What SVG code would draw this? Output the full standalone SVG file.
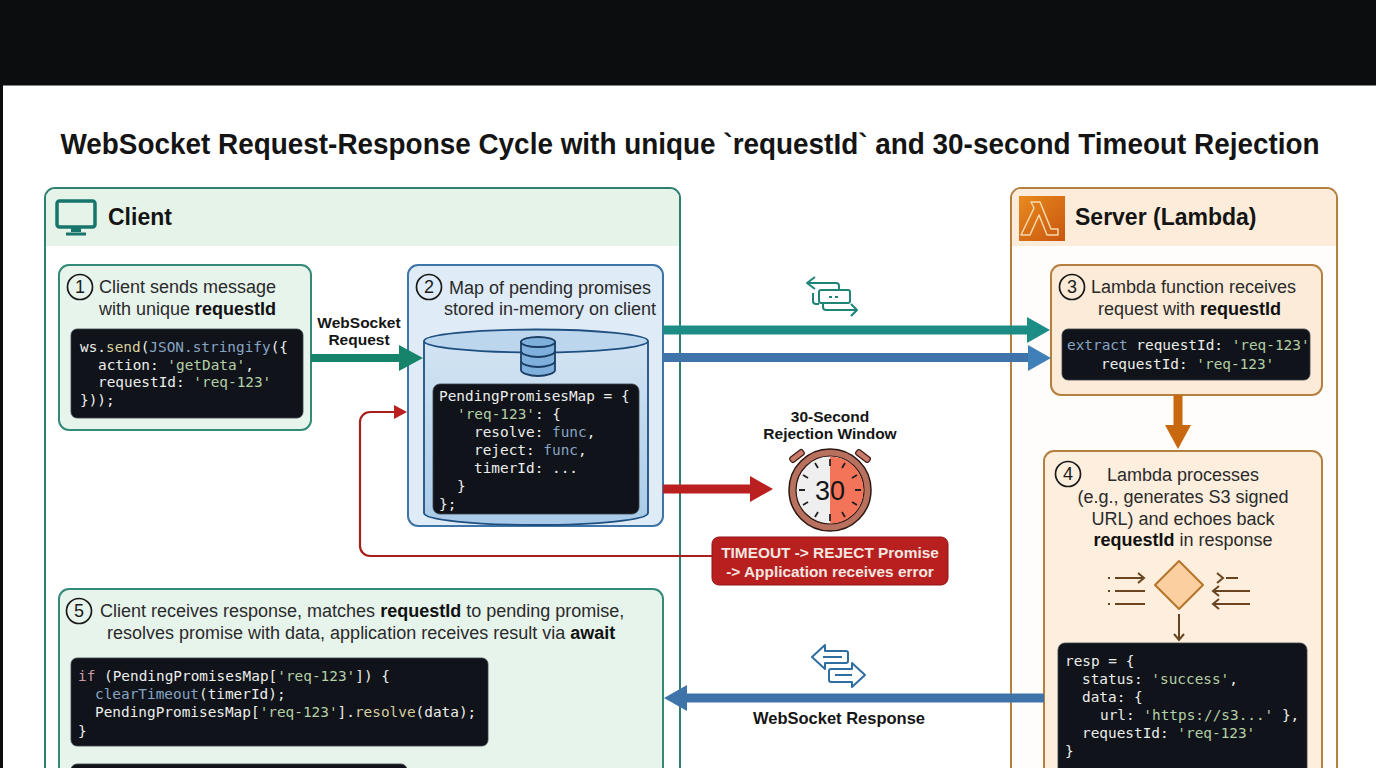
<svg xmlns="http://www.w3.org/2000/svg" width="1376" height="768" viewBox="0 0 1376 768">
<style>
text{font-family:"Liberation Sans",Arial,sans-serif;fill:#1a1a1a}
.h{font-size:23px;font-weight:bold;fill:#141414}
.t{font-size:18px;fill:#2a2a2a}
.c{text-anchor:middle}
.b{font-weight:bold;fill:#111}
.l{font-size:15.500px;font-weight:bold;fill:#151515;text-anchor:middle}
.n{font-size:18px;fill:#1a1a1a;text-anchor:middle}
.num{fill:none;stroke:#1a1a1a;stroke-width:1.7}
.code{fill:#101319;stroke:#3a4048;stroke-width:.8}
.m{font-family:"DejaVu Sans Mono","Liberation Mono",monospace;font-size:14.4px;fill:#eceeec;white-space:pre}
.g{fill:#b4d0a6}.k{fill:#87a5c4}.p{fill:#c99aa8}.y{fill:#d8cfa0}
.r{font-size:15.400px;font-weight:bold;fill:#f6e6e0;text-anchor:middle}
</style>
<defs>
<linearGradient id="lam" x1="0" y1="0" x2="1" y2="1"><stop offset="0" stop-color="#e98a1e"/><stop offset="1" stop-color="#c8560f"/></linearGradient>
<linearGradient id="cyl" x1="0" y1="0" x2="0" y2="1"><stop offset="0" stop-color="#d3e4f3"/><stop offset="1" stop-color="#a9cbe8"/></linearGradient>
</defs>
<rect width="1376" height="768" fill="#fff"/>
<rect width="1376" height="85.500" fill="#0c0d0f"/>
<rect y="85" width="3" height="683" fill="#0c0d0f"/>
<text id="title" transform="translate(690 154) scale(.946 1)" text-anchor="middle" style="font-size:29.5px;font-weight:bold;fill:#141414">WebSocket Request-Response Cycle with unique `requestId` and 30-second Timeout Rejection</text>

<g id="client-panel">
<path d="M45 800V198a10 10 0 0 1 10-10H670a10 10 0 0 1 10 10V800Z" fill="#fff" stroke="#2f7f70" stroke-width="2"/>
<path d="M46 246V198a9 9 0 0 1 9-9H670a9 9 0 0 1 9 9V246Z" fill="#e5f3e8"/>
<rect x="57" y="201" width="38" height="26" rx="2.500" fill="none" stroke="#17756b" stroke-width="3.500"/>
<path d="M71 228h10v4h-10zM66 232.500h20v3h-20z" fill="#17756b"/>
<text class="h" x="108" y="225">Client</text>
</g>

<g id="server-panel">
<path d="M1011 800V198a10 10 0 0 1 10-10H1327a10 10 0 0 1 10 10V800Z" fill="#fffdfb" stroke="#b5803f" stroke-width="2"/>
<path d="M1012 246V198a9 9 0 0 1 9-9H1327a9 9 0 0 1 9 9V246Z" fill="#fcecd9"/>
<rect x="1019" y="196" width="46" height="45" fill="url(#lam)"/>
<path d="M1031 202h9l11 27h7v6h-11l-8-20-9 20h-9l13-27-3-6h0z" fill="none" stroke="#f7d9ad" stroke-width="1.500" stroke-linejoin="round"/>
<text class="h" x="1075" y="225">Server (Lambda)</text>
</g>

<g id="step1">
<rect x="59" y="265" width="252" height="165" rx="10" fill="#e7f4ec" stroke="#348a78" stroke-width="2"/>
<circle class="num" cx="80" cy="287" r="12.500"/><text class="n" x="80" y="293">1</text>
<text class="t" x="99" y="293">Client sends message</text>
<text class="t" x="99" y="315">with unique <tspan class="b">requestId</tspan></text>
<rect class="code" x="71" y="329" width="232" height="89" rx="6"/>
<text class="m" x="80" y="352">ws.<tspan class="y">send</tspan>(<tspan class="k">JSON.stringify</tspan>({</text>
<text class="m" x="98" y="370">action: <tspan class="g">'getData'</tspan>,</text>
<text class="m" x="98" y="387">requestId: <tspan class="g">'req-123'</tspan></text>
<text class="m" x="80" y="405">}));</text>
</g>

<g id="step2">
<rect x="408" y="265" width="255" height="261" rx="10" fill="#dfecf7" stroke="#3f74a8" stroke-width="2"/>
<circle class="num" cx="429" cy="287" r="12.500"/><text class="n" x="429" y="293">2</text>
<text class="t" x="449" y="294">Map of pending promises</text>
<text class="t" x="444" y="315">stored in-memory on client</text>
<path d="M424 341V513C424 520 475 525 536 525S648 520 648 513V341" fill="url(#cyl)" stroke="#1f4f80" stroke-width="1.800"/>
<ellipse cx="536" cy="341" rx="112" ry="11.500" fill="#bcd6ee" stroke="#1f4f80" stroke-width="1.800"/>
<g fill="#7fb0dc" stroke="#1a3e63" stroke-width="1.800">
<path d="M521 342v28c0 3 8 6 17 6s17-3 17-6v-28z"/>
<ellipse cx="538" cy="342" rx="17" ry="5"/>
<path d="M521 351c0 3 8 6 17 6s17-3 17-6M521 361c0 3 8 6 17 6s17-3 17-6" fill="none"/>
</g>
<rect class="code" x="433" y="384" width="206" height="130" rx="7"/>
<text class="m" x="439" y="401">PendingPromisesMap = {</text>
<text class="m" x="457" y="419"><tspan class="g">'req-123'</tspan>: {</text>
<text class="m" x="474" y="437">resolve: <tspan class="k">func</tspan>,</text>
<text class="m" x="474" y="455">reject: <tspan class="k">func</tspan>,</text>
<text class="m" x="474" y="473">timerId: ...</text>
<text class="m" x="457" y="491">}</text>
<text class="m" x="439" y="509">};</text>
</g>

<g id="step3">
<rect x="1051" y="265" width="271" height="130" rx="10" fill="#fcebd8" stroke="#b5803f" stroke-width="2"/>
<circle class="num" cx="1072" cy="287" r="12.500"/><text class="n" x="1072" y="293">3</text>
<text class="t" x="1091" y="293">Lambda function receives</text>
<text class="t" x="1098" y="315">request with <tspan class="b">requestId</tspan></text>
<rect class="code" x="1062" y="329" width="248" height="51" rx="6"/>
<text class="m" x="1067" y="350"><tspan class="k">extract</tspan> requestId: <tspan class="g">'req-123'</tspan></text>
<text class="m" x="1101" y="369">requestId: <tspan class="g">'req-123'</tspan></text>
</g>

<g id="step4">
<path d="M1044 800V461a10 10 0 0 1 10-10H1312a10 10 0 0 1 10 10V800Z" fill="#fdeedd" stroke="#b5803f" stroke-width="2"/>
<circle class="num" cx="1068" cy="474" r="12.500"/><text class="n" x="1068" y="480">4</text>
<text class="t c" x="1183" y="481">Lambda processes</text>
<text class="t c" x="1183" y="503">(e.g., generates S3 signed</text>
<text class="t c" x="1183" y="525">URL) and echoes back</text>
<text class="t c" x="1183" y="546"><tspan class="b">requestId</tspan> in response</text>
<path d="M1179 561l24 24-24 24-24-24z" fill="#fbcf9f" stroke="#b5762c" stroke-width="2" stroke-linejoin="round"/>
<g fill="none" stroke="#6a4420" stroke-width="2">
<path d="M1115 578h29M1138 573l6 5-6 5M1115 591h30M1115 604h30"/>
<path d="M1108 578h2M1108 591h2M1108 604h2"/>
<path d="M1226 578h12M1217 573l6 5-6 5M1213 591h37M1219 586l-6 5 6 5M1213 604h37M1219 599l-6 5 6 5"/>
<path d="M1179 614v26M1174 634l5 6 5-6"/>
</g>
<rect class="code" x="1058" y="643" width="249" height="135" rx="7"/>
<text class="m" x="1065" y="666">resp = {</text>
<text class="m" x="1082" y="684">status: <tspan class="g">'success'</tspan>,</text>
<text class="m" x="1082" y="702">data: {</text>
<text class="m" x="1100" y="720">url: <tspan class="g">'https://s3...'</tspan> },</text>
<text class="m" x="1082" y="738">requestId: <tspan class="g">'req-123'</tspan></text>
<text class="m" x="1065" y="756">}</text>
</g>

<g id="step5">
<path d="M59 800V599a10 10 0 0 1 10-10H653a10 10 0 0 1 10 10V800Z" fill="#e7f4ec" stroke="#348a78" stroke-width="2"/>
<circle class="num" cx="79" cy="611" r="12.500"/><text class="n" x="79" y="617">5</text>
<text class="t" x="100" y="617">Client receives response, matches <tspan class="b">requestId</tspan> to pending promise,</text>
<text class="t" x="107" y="639">resolves promise with data, application receives result via <tspan class="b">await</tspan></text>
<rect class="code" x="71" y="658" width="417" height="88" rx="6"/>
<text class="m" x="78" y="681"><tspan class="p">if</tspan> (PendingPromisesMap[<tspan class="g">'req-123'</tspan>]) {</text>
<text class="m" x="95" y="699"><tspan class="k">clearTimeout</tspan>(timerId);</text>
<text class="m" x="95" y="717">PendingPromisesMap[<tspan class="g">'req-123'</tspan>].<tspan class="y">resolve</tspan>(data);</text>
<text class="m" x="78" y="736">}</text>
<rect class="code" x="71" y="764" width="336" height="20" rx="6"/>
</g>

<g id="timer">
<text class="l" x="830" y="422">30-Second</text>
<text class="l" x="830" y="439">Rejection Window</text>
<g fill="#c97b6a" stroke="#3a1a14" stroke-width="1.200">
<rect x="-8" y="-3" width="16" height="6" rx="2" transform="translate(797 456) rotate(-38)"/>
<rect x="-8" y="-3" width="16" height="6" rx="2" transform="translate(863 456) rotate(38)"/>
</g>
<circle cx="830" cy="490" r="41" fill="#b8705f" stroke="#2d1712" stroke-width="1.500"/>
<circle cx="830" cy="490" r="34" fill="#efefef" stroke="#2d1712" stroke-width="1.200"/>
<path d="M830 456.500a33.500 33.500 0 0 1 0 67z" fill="#f4745a"/>
<g stroke="#222" stroke-width="1.800"><path d="M830 459v7M830 514v7M799 490h6M855 490h6M845 463l-3 5M815 463l3 5M857 475l-5 3M803 475l5 3M857 505l-5-3M803 505l5-3M845 517l-3-5M815 517l3-5"/></g>
<text x="830" y="500" text-anchor="middle" style="font-size:27px;fill:#151515">30</text>
</g>

<g id="timeout">
<rect x="712" y="537" width="236" height="48" rx="7" fill="#b7201f" stroke="#8f1514" stroke-width="1"/>
<text class="r" x="830" y="558">TIMEOUT -&gt; REJECT Promise</text>
<text class="r" x="830" y="577">-&gt; Application receives error</text>
</g>

<g id="connectors">
<path d="M311 358H400" stroke="#16836b" stroke-width="8" fill="none"/><path d="M399 345l24 13-24 13z" fill="#16836b"/>
<path d="M663 330H1028" stroke="#1c8d85" stroke-width="9" fill="none"/><path d="M1027 317l23 13-23 13z" fill="#1c8d85"/>
<path d="M663 357.500H1029" stroke="#3f74aa" stroke-width="9" fill="none"/><path d="M1028 345l23 13-23 13z" fill="#3f80b8"/>
<path d="M663 489H750" stroke="#b9201f" stroke-width="9" fill="none"/><path d="M750 476l23 13-23 13z" fill="#b9201f"/>
<path d="M712 556H370a10 10 0 0 1-10-10V422a10 10 0 0 1 10-10H396" stroke="#a61f1c" stroke-width="2.200" fill="none"/><path d="M394 405l13 7-13 7z" fill="#b9201f"/>
<path d="M1178 395V425" stroke="#c9690f" stroke-width="9" fill="none"/><path d="M1165 425h26l-13 24z" fill="#c9690f"/>
<path d="M1044 698H685" stroke="#3f74aa" stroke-width="9" fill="none"/><path d="M687 685l-23 13 23 13z" fill="#3f74aa"/>
<text class="l" x="359" y="328">WebSocket</text>
<text class="l" x="359" y="345">Request</text>
<text class="l" x="839" y="724" style="font-size:16.5px">WebSocket Response</text>
<g fill="none" stroke="#1f8478" stroke-width="2" stroke-linejoin="round">
<path d="M815 277l-8 6 8 6M807 283h29q3 0 3 3v4"/>
<rect x="819" y="290" width="31" height="13" rx="2"/>
<path d="M829 297h3M835 297h3"/>
<path d="M813 293v8q0 3 3 3h3M823 303v4q0 3 3 3h31M851 304l6 6-6 6"/>
</g>
<g fill="none" stroke="#2f6ea3" stroke-width="2" stroke-linejoin="round">
<path d="M825 645l-13 12 13 12v-6h21q2 0 2-2v-8q0-2-2-2h-21z"/>
<path d="M823 657h19M835 675h17"/>
<path d="M852 663l13 12-13 12v-5h-21q-2 0-2-2v-9q0-2 2-2h21z"/>
</g>
</g>
</svg>
